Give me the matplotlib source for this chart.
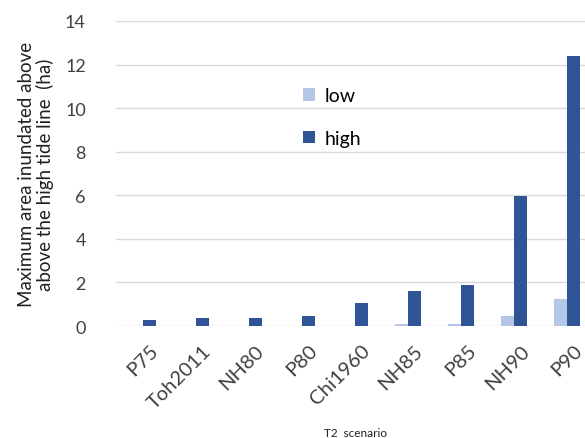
import numpy as np
import matplotlib
matplotlib.use("Agg")
import matplotlib.pyplot as plt
import matplotlib.transforms as mtransforms

# ── Data ─────────────────────────────────────────────────────────────────────
scenarios = ["P75", "Toh2011", "NH80", "P80", "Chi1960", "NH85", "P85", "NH90", "P90"]
low = [0.0, 0.0, 0.0, 0.0, 0.0, 0.09, 0.09, 0.44, 1.24]
high = [0.3, 0.37, 0.37, 0.45, 1.05, 1.6, 1.88, 5.95, 12.37]
yticks = [0, 2, 4, 6, 8, 10, 12, 14]

LOW_C = "#B4C7E7"
HIGH_C = "#2F5597"

plt.rcParams["font.family"] = ["Lato", "DejaVu Sans"]

fig = plt.figure(figsize=(5.85, 4.39), dpi=100)
ax = fig.add_axes([0.199, 0.255, 0.816, 0.695])

x = np.arange(len(scenarios))
w = 0.245
ax.bar(x - w / 2, low, w, color=LOW_C, label="low", zorder=3)
ax.bar(x + w / 2, high, w, color=HIGH_C, label="high", zorder=3)

ax.set_xlim(-0.5, len(scenarios) - 0.5)
ax.set_ylim(0, 14)
ax.set_yticks(yticks)
ax.tick_params(axis="y", labelsize=13, length=0, pad=22, colors="#404040")
ax.set_xticks(x)
ax.set_xticklabels(scenarios, rotation=45, ha="right", rotation_mode="anchor",
                   fontsize=14.5, color="#404040")
ax.tick_params(axis="x", length=0, pad=11)

# shift tick labels slightly right, like the original
shift = mtransforms.ScaledTranslation(6 / 100, 0, fig.dpi_scale_trans)
for lab in ax.get_xticklabels():
    lab.set_transform(lab.get_transform() + shift)

ax.grid(axis="y", color="#d9d9d9", linewidth=1, zorder=0)
for s in ax.spines.values():
    s.set_visible(False)

ax.set_ylabel("Maximum area inundated above\nabove the high tide line  (ha)",
              fontsize=13.5, color="#202020", labelpad=8, linespacing=1.05)
ax.set_xlabel("T2  scenario", fontsize=8.5, color="#202020", labelpad=12)

ax.legend(loc="upper left", bbox_to_anchor=(0.355, 0.84), frameon=False,
          fontsize=14, handlelength=0.6, handleheight=0.6, labelspacing=1.3,
          handletextpad=0.5)

fig.savefig("out.png", dpi=100)
